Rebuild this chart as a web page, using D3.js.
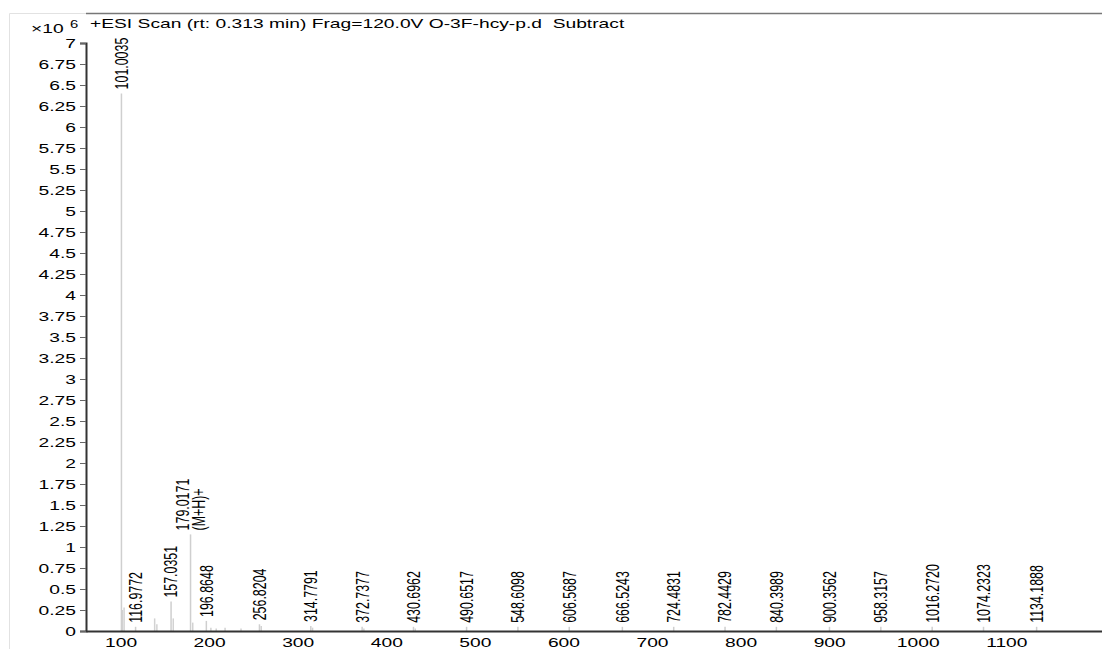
<!DOCTYPE html>
<html>
<head>
<meta charset="utf-8">
<script src="https://cdn.jsdelivr.net/npm/d3@7"></script>
<style>
  html, body { margin: 0; padding: 0; background: #fff; }
  svg { display: block; }
  text { font-family: "Liberation Sans", Arial, sans-serif; fill: #000; }
</style>
</head>
<body>
<div id="chart"></div>
<script>
// labelled peaks: m/z and abundance (x10^6)
const peakMz    = [101.0035, 116.9772, 157.0351, 179.0171, 196.8648, 256.8204, 314.7791, 372.7377,
                   430.6962, 490.6517, 548.6098, 606.5687, 666.5243, 724.4831, 782.4429, 840.3989,
                   900.3562, 958.3157, 1016.2720, 1074.2323, 1134.1888];
const peakInt   = [6.40, 0.05, 0.35, 1.15, 0.12, 0.08, 0.06, 0.05,
                   0.05, 0.05, 0.05, 0.05, 0.05, 0.05, 0.05, 0.05,
                   0.05, 0.05, 0.05, 0.05, 0.05];
const peakNote  = {"179.0171": "(M+H)+"};

// unlabelled minor peaks
const minorMz   = [102.0, 104.0, 138.5, 141.0, 159.5, 181.5, 202.0, 208.0, 218.0, 236.0, 258.8, 316.8, 374.7, 432.7];
const minorInt  = [0.25, 0.28, 0.15, 0.08, 0.15, 0.10, 0.04, 0.03, 0.04, 0.03, 0.06, 0.04, 0.03, 0.03];

const xTicks = [100, 200, 300, 400, 500, 600, 700, 800, 900, 1000, 1100];
const yTicks = d3.range(0, 7.001, 0.25);

const title = "+ESI Scan (rt: 0.313 min) Frag=120.0V O-3F-hcy-p.d  Subtract";

const W = 1102, H = 649;
const margin = { top: 13, right: 0, bottom: 18, left: 86 };
const S = 1.48;      // horizontal text stretch of the original picture
const FS = 13;
const LFS = 12.4;    // peak label size

const svg = d3.select("#chart").append("svg")
    .attr("width", W)
    .attr("height", H);

const x = d3.scaleLinear()
    .domain([61, 1208])
    .range([margin.left, W - margin.right]);

const y = d3.scaleLinear()
    .domain([0, 7])
    .range([H - margin.bottom, 43]);

// faint outer frame
svg.append("path")
    .attr("d", `M9.5,${H} V13.5 H${margin.left}`)
    .attr("fill", "none")
    .attr("stroke", "#e2e2e2")
    .attr("stroke-width", 1);

// top border
svg.append("line")
    .attr("x1", margin.left).attr("x2", W)
    .attr("y1", 13.5).attr("y2", 13.5)
    .attr("stroke", "#777")
    .attr("stroke-width", 1.5);

// minor peaks
svg.append("g").selectAll("line")
    .data(minorMz.map((m, i) => ({ m, v: minorInt[i] })))
    .join("line")
    .attr("x1", d => x(d.m)).attr("x2", d => x(d.m))
    .attr("y1", y(0)).attr("y2", d => y(d.v))
    .attr("stroke", "#d2d2d2")
    .attr("stroke-width", 1.5);

// labelled peaks
const peaks = peakMz.map((m, i) => ({ m, v: peakInt[i], label: m.toFixed(4) }));

svg.append("g").selectAll("line")
    .data(peaks)
    .join("line")
    .attr("x1", d => x(d.m)).attr("x2", d => x(d.m))
    .attr("y1", y(0)).attr("y2", d => y(d.v))
    .attr("stroke", "#cfcfcf")
    .attr("stroke-width", 1.5);

const labels = svg.append("g");
peaks.forEach(d => {
    const note = peakNote[d.label];
    const lines = note ? [d.label, note] : [d.label];
    const lh = 16;
    lines.forEach((t, k) => {
        const off = (k - (lines.length - 1) / 2) * lh;
        labels.append("text")
            .attr("transform", `translate(${x(d.m) + off},${y(d.v) - 4}) scale(${S},1) rotate(-90)`)
            .attr("dy", "0.35em")
            .style("font-size", LFS + "px")
            .text(t);
    });
});

// y axis
const yAxis = svg.append("g")
    .attr("transform", `translate(${margin.left},0)`)
    .call(d3.axisLeft(y).tickValues(yTicks).tickSize(6).tickFormat(d => String(+d.toFixed(2))));
yAxis.select(".domain").attr("stroke", "#333").attr("stroke-width", 2);
yAxis.selectAll(".tick line").attr("stroke", "#666");
yAxis.selectAll(".tick text")
    .attr("x", null)
    .attr("dy", null)
    .attr("transform", `translate(-10,4.7) scale(${S},1)`)
    .style("font-size", FS + "px")
    .style("font-family", "Liberation Sans, Arial, sans-serif")
    .attr("fill", "#000");

// x axis
const xAxis = svg.append("g")
    .attr("transform", `translate(0,${y(0)})`)
    .call(d3.axisBottom(x).tickValues(xTicks).tickSize(0).tickFormat(d3.format("d")));
xAxis.select(".domain").attr("stroke", "#333").attr("stroke-width", 2);
xAxis.selectAll(".tick text")
    .attr("y", null)
    .attr("dy", null)
    .attr("transform", `translate(0,16) scale(${S},1)`)
    .style("font-size", FS + "px")
    .style("font-family", "Liberation Sans, Arial, sans-serif")
    .attr("fill", "#000");

// exponent label
svg.append("text")
    .attr("transform", `translate(31,33) scale(${S},1)`)
    .style("font-size", FS + "px")
    .text("×10");
svg.append("text")
    .attr("transform", `translate(70,28) scale(${S},1)`)
    .style("font-size", "10px")
    .text("6");

// title
svg.append("text")
    .attr("transform", `translate(90,28) scale(${S},1)`)
    .style("font-size", FS + "px")
    .style("white-space", "pre")
    .text(title);
</script>
</body>
</html>
